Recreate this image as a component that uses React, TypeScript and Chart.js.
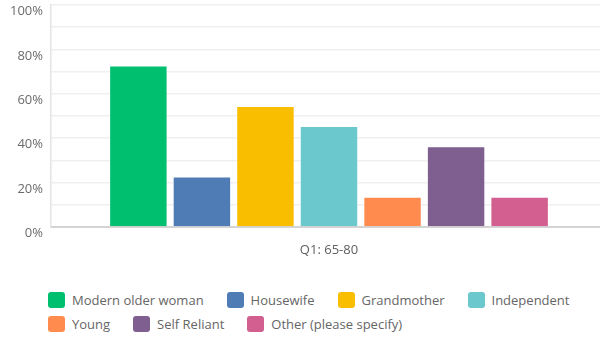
import React, { useEffect, useRef } from "react";
import { Chart, registerables } from "chart.js";

Chart.register(...registerables);

const categories = ["Q1: 65-80"];
const seriesNames = [
  "Modern older woman",
  "Housewife",
  "Grandmother",
  "Independent",
  "Young",
  "Self Reliant",
  "Other (please specify)",
];
const seriesValues = [72.73, 22.73, 54.55, 45.45, 13.64, 36.36, 13.64];
const seriesColors = ["#00BF6F", "#507CB6", "#F9BE00", "#6BC8CD", "#FF8B4F", "#7F5F90", "#D25F90"];
const yTickStep = 10;
const yMax = 100;

const FONT = "'Open Sans', 'Noto Sans', sans-serif";

export default function App() {
  const ref = useRef<HTMLCanvasElement | null>(null);

  useEffect(() => {
    if (!ref.current) return;
    const chart = new Chart(ref.current, {
      type: "bar",
      data: {
        labels: categories,
        datasets: seriesNames.map((name, i) => ({
          label: name,
          data: [seriesValues[i]],
          backgroundColor: seriesColors[i],
          borderColor: "rgba(255,255,255,0.55)",
          borderWidth: 1,
          categoryPercentage: 0.8,
          barPercentage: 0.92,
        })),
      },
      options: {
        animation: false,
        responsive: false,
        devicePixelRatio: 1,
        layout: { padding: { top: 5, left: 0, right: 0, bottom: 0 } },
        plugins: {
          legend: { display: false },
          tooltip: { enabled: false },
        },
        scales: {
          x: {
            grid: { display: false, drawTicks: false },
            border: { display: true, color: "#d4d4d4", width: 2 },
            ticks: {
              padding: 15,
              color: "#5f5f5f",
              font: { family: FONT, size: 13 },
            },
            afterFit: (scale: any) => {
              scale.height = 33;
            },
          },
          y: {
            min: 0,
            max: yMax,
            grid: { color: "#efefef", lineWidth: 1.5, drawTicks: false },
            border: { display: true, color: "#e4e4e4", width: 1.5 },
            ticks: {
              stepSize: yTickStep,
              padding: 8,
              labelOffset: 6.5,
              color: "#6b6b6b",
              font: { family: FONT, size: 13 },
              callback: (v: any) => (Number(v) % 20 === 0 ? `${v}%` : ""),
            },
            afterFit: (scale: any) => {
              scale.width = 51;
              scale.paddingTop = 0;
              scale.paddingBottom = 0;
            },
          },
        },
      },
    });
    return () => chart.destroy();
  }, []);

  return (
    <div
      style={{
        position: "fixed",
        left: 0,
        top: 0,
        width: 600,
        height: 339,
        overflow: "hidden",
        background: "#fff",
        fontFamily: FONT,
      }}
    >
      <canvas ref={ref} width={607} height={260} style={{ display: "block", width: 607, height: 260 }} />
      <div
        style={{
          position: "absolute",
          left: 48,
          top: 292,
          width: 545,
          display: "flex",
          flexWrap: "wrap",
          columnGap: 23,
          rowGap: 8,
        }}
      >
        {seriesNames.map((name, i) => (
          <div key={name} style={{ display: "flex", alignItems: "center", height: 16 }}>
            <span
              style={{
                display: "inline-block",
                width: 17,
                height: 16,
                borderRadius: 3,
                background: seriesColors[i],
              }}
            />
            <span style={{ marginLeft: 7, fontSize: 13, color: "#666", lineHeight: "16px", whiteSpace: "nowrap" }}>
              {name}
            </span>
          </div>
        ))}
      </div>
    </div>
  );
}
